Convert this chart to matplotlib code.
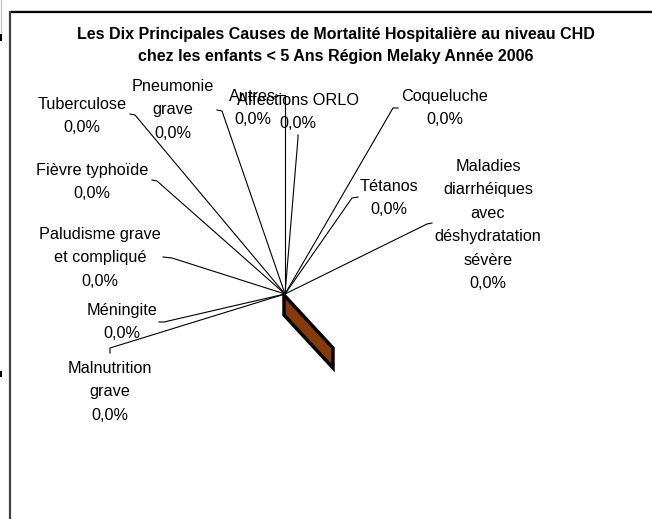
import matplotlib
matplotlib.use("Agg")
import matplotlib.pyplot as plt
from matplotlib.patches import Polygon

# ---- data ----
categories = ["Autres", "Affections ORLO", "Coqueluche", "Tétanos",
              "Maladies diarrhéiques avec déshydratation sévère",
              "Malnutrition grave", "Méningite",
              "Paludisme grave et compliqué", "Fièvre typhoïde",
              "Tuberculose", "Pneumonie grave"]
values = [0, 0, 0, 0, 0, 0, 0, 0, 0, 0, 0]
title_lines = ["Les Dix Principales Causes de Mortalité Hospitalière au niveau CHD",
               "chez les enfants < 5 Ans Région Melaky Année 2006"]

# ---- layout (pixel coordinates of the 652x519 canvas) ----
wrapped = {
    "Autres": ["Autres"],
    "Affections ORLO": ["Affections ORLO"],
    "Coqueluche": ["Coqueluche"],
    "Tétanos": ["Tétanos"],
    "Maladies diarrhéiques avec déshydratation sévère":
        ["Maladies", "diarrhéiques", "avec", "déshydratation", "sévère"],
    "Malnutrition grave": ["Malnutrition", "grave"],
    "Méningite": ["Méningite"],
    "Paludisme grave et compliqué": ["Paludisme grave", "et compliqué"],
    "Fièvre typhoïde": ["Fièvre typhoïde"],
    "Tuberculose": ["Tuberculose"],
    "Pneumonie grave": ["Pneumonie", "grave"],
}
label_pos = {  # centre x, centre y of first line
    "Autres": (253, 95),
    "Affections ORLO": (298, 99),
    "Coqueluche": (445, 95),
    "Tétanos": (389, 185),
    "Maladies diarrhéiques avec déshydratation sévère": (488, 165),
    "Malnutrition grave": (110, 367),
    "Méningite": (122, 309),
    "Paludisme grave et compliqué": (100, 233),
    "Fièvre typhoïde": (92, 169),
    "Tuberculose": (82, 103),
    "Pneumonie grave": (173, 85),
}
leader_pts = {
    "Autres": [(277, 95), (285, 95)],
    "Affections ORLO": [(298, 135), (298, 138)],
    "Coqueluche": [(398, 108), (393, 108)],
    "Tétanos": [(358, 197), (352, 198)],
    "Maladies diarrhéiques avec déshydratation sévère": [(432, 223), (427, 224)],
    "Malnutrition grave": [(110, 353), (110, 348)],
    "Méningite": [(159, 322), (164, 322)],
    "Paludisme grave et compliqué": [(163, 257), (172, 258)],
    "Fièvre typhoïde": [(152, 180), (157, 181)],
    "Tuberculose": [(130, 114), (135, 115)],
    "Pneumonie grave": [(217, 110), (222, 111)],
}
center = (285, 294)
W, H = 652, 519
LINE = 23.5
FS = 11.7
FONT = "Liberation Sans"

fig = plt.figure(figsize=(W / 100, H / 100), dpi=100)
ax = fig.add_axes([0, 0, 1, 1])
ax.set_xlim(0, W)
ax.set_ylim(H, 0)
ax.axis("off")

total = sum(values)

# chart frame
ax.plot([10, W], [10.5, 10.5], color="#b0b0b0", lw=1.0, solid_capstyle="butt")
ax.plot([10, W], [12, 12], color="black", lw=1.6, solid_capstyle="butt")
ax.plot([9.5, 9.5], [11, H], color="#404040", lw=1.6, solid_capstyle="butt")
# edge artifacts
ax.plot([0.5, 0.5], [0, 33], color="#c8c8c8", lw=1.0)
ax.plot([0.5, 0.5], [34, 41], color="black", lw=1.5, solid_capstyle="butt")
ax.plot([0.5, 0.5], [371, 377], color="black", lw=1.5, solid_capstyle="butt")

# title
for i, t in enumerate(title_lines):
    ax.text(336, 35 + i * 22, t, ha="center", va="center", fontsize=11.5,
            fontweight="bold", family=FONT, color="black")

# leader lines and labels
for cat, v in zip(categories, values):
    pct = (v / total * 100) if total else 0.0
    pct_txt = f"{pct:.1f}%".replace(".", ",")
    pts = leader_pts[cat] + [center]
    ax.plot([p[0] for p in pts], [p[1] for p in pts], color="black", lw=0.8,
            zorder=2)
    lines = wrapped[cat] + [pct_txt]
    cx, cy = label_pos[cat]
    for j, ln in enumerate(lines):
        ax.text(cx, cy + j * LINE + 5.8, ln, ha="center", va="baseline",
                fontsize=FS, family=FONT, color="black", zorder=3)

# zero-value 3D slice wall
wall = Polygon([(284, 295), (284, 315), (333, 368), (333, 348)], closed=True,
               facecolor="#863a08", edgecolor="black", lw=2.5, joinstyle="miter",
               zorder=4)
ax.add_patch(wall)

fig.savefig("out.png", dpi=100, facecolor="white")
